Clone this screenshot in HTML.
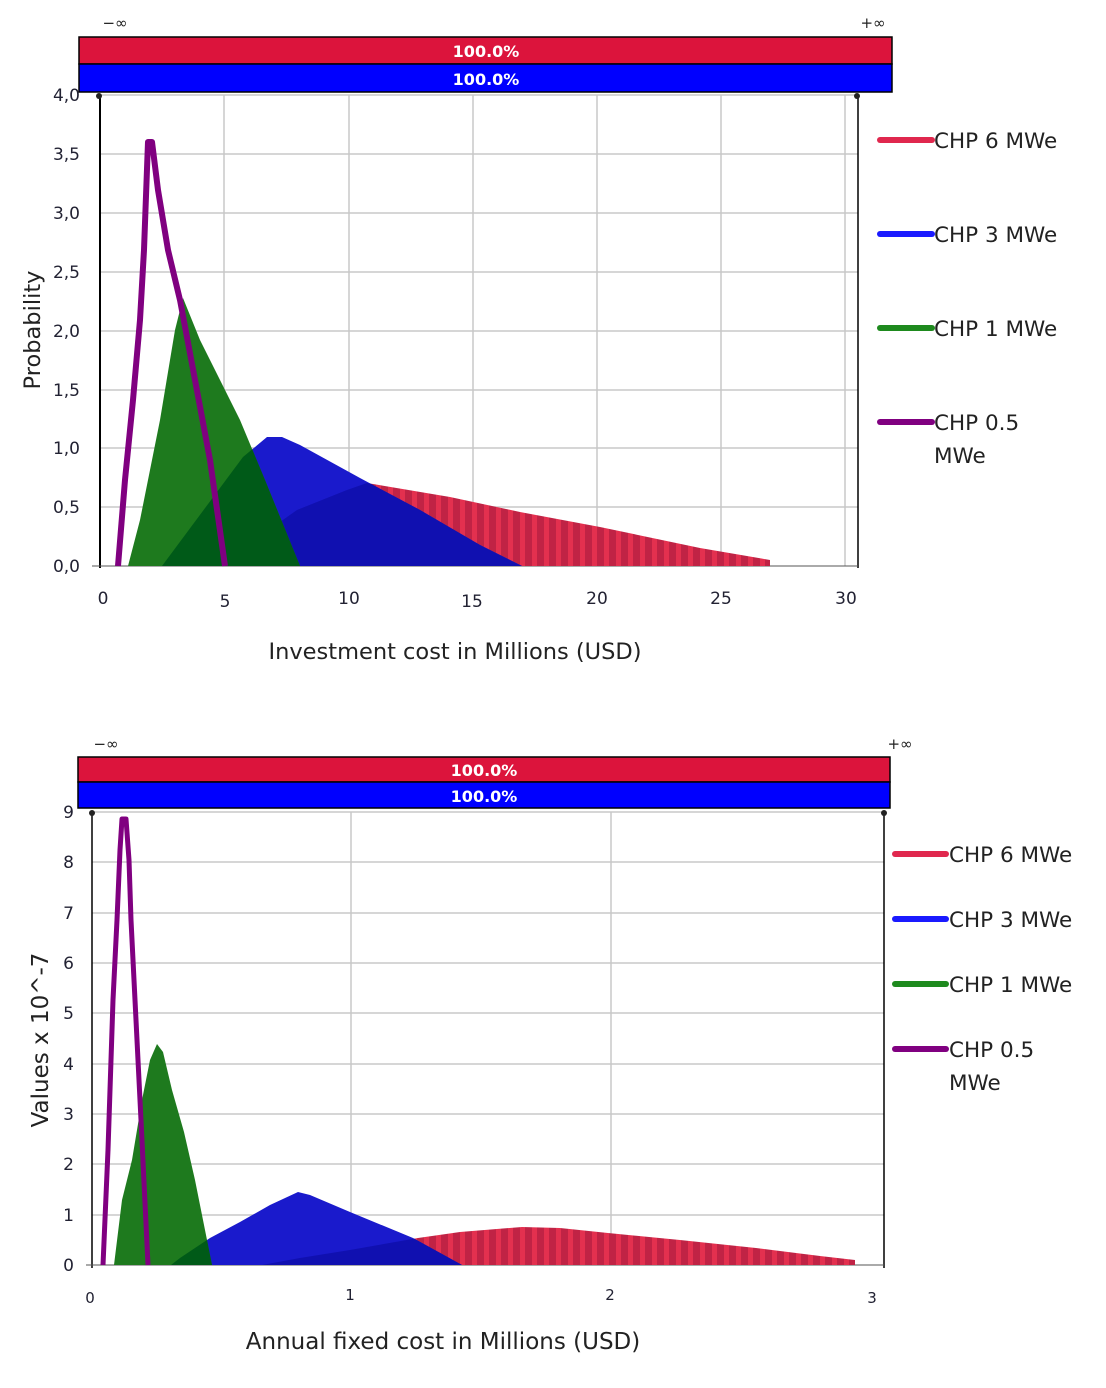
<!DOCTYPE html>
<html><head><meta charset="utf-8"><style>
html,body{margin:0;padding:0;background:#fff;}
svg{display:block;}
text{font-family:"DejaVu Sans","Liberation Sans",sans-serif;}
</style></head><body>
<svg width="1106" height="1388" viewBox="0 0 1106 1388" xmlns="http://www.w3.org/2000/svg">
<defs>
<pattern id="stripes" width="12" height="10" patternUnits="userSpaceOnUse">
<rect width="12" height="10" fill="#c02345"/><rect x="4" width="5" height="10" fill="#e3304f"/>
</pattern>
<clipPath id="redTop"><polygon points="262,566 280,522 297,510 347,490 367,483 450,497 520,512 600,527 700,548 770,560 770,566"/></clipPath>
<clipPath id="blueTop"><polygon points="162,566 243,457 267,437 282,437 300,445 360,478 420,510 480,545 522,566"/></clipPath>
<clipPath id="redBot"><polygon points="262,1265 300,1258 350,1250 418,1238 460,1232 522,1227 560,1228 608,1233 680,1240 756,1248 820,1256 855,1260 855,1265"/></clipPath>
<clipPath id="blueBot"><polygon points="171,1265 180,1258 210,1238 240,1222 270,1205 298,1192 310,1195 350,1212 413,1238 462,1265"/></clipPath>
</defs>

<!-- ===== TOP CHART ===== -->
<text x="115" y="28" font-size="15" fill="#222" text-anchor="middle">−∞</text>
<text x="873" y="28" font-size="15" fill="#222" text-anchor="middle">+∞</text>
<rect x="79" y="37" width="813" height="27" fill="#dc143c" stroke="#000" stroke-width="1.5"/>
<rect x="79" y="64" width="813" height="28" fill="#0000ff" stroke="#000" stroke-width="1.5"/>
<text x="486" y="57" font-size="16" font-weight="bold" fill="#fff" text-anchor="middle">100.0%</text>
<text x="486" y="85" font-size="16" font-weight="bold" fill="#fff" text-anchor="middle">100.0%</text>

<g stroke="#c8c8c8" stroke-width="1.5">
<line x1="100" y1="154" x2="858" y2="154"/><line x1="100" y1="213" x2="858" y2="213"/>
<line x1="100" y1="272" x2="858" y2="272"/><line x1="100" y1="331" x2="858" y2="331"/>
<line x1="100" y1="390" x2="858" y2="390"/><line x1="100" y1="448" x2="858" y2="448"/>
<line x1="100" y1="507" x2="858" y2="507"/><line x1="100" y1="95" x2="858" y2="95"/>
<line x1="224" y1="95" x2="224" y2="566"/><line x1="349" y1="95" x2="349" y2="566"/>
<line x1="473" y1="95" x2="473" y2="566"/><line x1="597" y1="95" x2="597" y2="566"/>
<line x1="721" y1="95" x2="721" y2="566"/><line x1="845" y1="95" x2="845" y2="566"/>
</g>
<line x1="100" y1="95" x2="100" y2="568" stroke="#000" stroke-width="2"/>
<line x1="858" y1="95" x2="858" y2="568" stroke="#000" stroke-width="1.5"/>
<line x1="92" y1="566" x2="858" y2="566" stroke="#555" stroke-width="1"/>
<circle cx="99" cy="96" r="3" fill="#222"/><circle cx="857" cy="96" r="3" fill="#222"/>

<rect x="100" y="400" width="700" height="170" fill="url(#stripes)" clip-path="url(#redTop)"/>
<g clip-path="url(#blueTop)"><rect x="100" y="400" width="700" height="170" fill="#1a1acc"/><rect x="100" y="400" width="700" height="170" fill="#1010b0" clip-path="url(#redTop)"/></g>
<polygon points="128,566 140,520 160,420 175,330 183,298 200,340 240,420 265,480 300,566" fill="#1e7a1e"/>
<g clip-path="url(#blueTop)"><polygon points="128,566 140,520 160,420 175,330 183,298 200,340 240,420 265,480 300,566" fill="#005a18"/></g>
<polyline points="118,566 125,480 133,400 140,320 144,250 148,142 152,142 158,190 168,250 180,300 195,380 210,460 225,566" fill="none" stroke="#800080" stroke-width="6" stroke-linejoin="round"/>

<g font-size="17" fill="#223" text-anchor="end">
<text x="80" y="101">4,0</text><text x="80" y="160">3,5</text><text x="80" y="219">3,0</text>
<text x="80" y="278">2,5</text><text x="80" y="337">2,0</text><text x="80" y="396">1,5</text>
<text x="80" y="454">1,0</text><text x="80" y="513">0,5</text><text x="80" y="572">0,0</text>
</g>
<g font-size="17" fill="#223" text-anchor="middle">
<text x="103" y="604">0</text><text x="225" y="607">5</text><text x="349" y="604">10</text>
<text x="472" y="607">15</text><text x="597" y="604">20</text><text x="721" y="604">25</text><text x="846" y="604">30</text>
</g>
<text x="455" y="659" font-size="22.5" fill="#222" text-anchor="middle">Investment cost in Millions (USD)</text>
<text transform="translate(40,330) rotate(-90)" font-size="22.5" fill="#222" text-anchor="middle">Probability</text>

<g stroke-width="6" stroke-linecap="round">
<line x1="880" y1="140" x2="932" y2="140" stroke="#e0284e"/>
<line x1="880" y1="234" x2="932" y2="234" stroke="#1a1aff"/>
<line x1="880" y1="328" x2="932" y2="328" stroke="#1e8a1e"/>
<line x1="880" y1="422" x2="932" y2="422" stroke="#800080"/>
</g>
<g font-size="21.5" fill="#222">
<text x="934" y="148">CHP 6 MWe</text><text x="934" y="242">CHP 3 MWe</text>
<text x="934" y="336">CHP 1 MWe</text><text x="934" y="430">CHP 0.5</text><text x="934" y="463">MWe</text>
</g>

<!-- ===== BOTTOM CHART ===== -->
<text x="106" y="749" font-size="15" fill="#222" text-anchor="middle">−∞</text>
<text x="900" y="749" font-size="15" fill="#222" text-anchor="middle">+∞</text>
<rect x="78" y="757" width="812" height="25" fill="#dc143c" stroke="#000" stroke-width="1.5"/>
<rect x="78" y="782" width="812" height="26" fill="#0000ff" stroke="#000" stroke-width="1.5"/>
<text x="484" y="776" font-size="16" font-weight="bold" fill="#fff" text-anchor="middle">100.0%</text>
<text x="484" y="802" font-size="16" font-weight="bold" fill="#fff" text-anchor="middle">100.0%</text>

<g stroke="#c8c8c8" stroke-width="1.5">
<line x1="92" y1="812" x2="884" y2="812"/><line x1="92" y1="862" x2="884" y2="862"/>
<line x1="92" y1="913" x2="884" y2="913"/><line x1="92" y1="963" x2="884" y2="963"/>
<line x1="92" y1="1013" x2="884" y2="1013"/><line x1="92" y1="1064" x2="884" y2="1064"/>
<line x1="92" y1="1114" x2="884" y2="1114"/><line x1="92" y1="1164" x2="884" y2="1164"/>
<line x1="92" y1="1215" x2="884" y2="1215"/>
<line x1="351" y1="812" x2="351" y2="1265"/><line x1="611" y1="812" x2="611" y2="1265"/>
</g>
<line x1="92" y1="812" x2="92" y2="1268" stroke="#000" stroke-width="1.5"/>
<line x1="884" y1="812" x2="884" y2="1268" stroke="#000" stroke-width="1.5"/>
<line x1="86" y1="1265" x2="884" y2="1265" stroke="#555" stroke-width="1"/>
<circle cx="92" cy="813" r="3" fill="#222"/><circle cx="884" cy="813" r="3" fill="#222"/>

<rect x="100" y="1180" width="800" height="90" fill="url(#stripes)" clip-path="url(#redBot)"/>
<g clip-path="url(#blueBot)"><rect x="100" y="1150" width="500" height="120" fill="#1a1acc"/><rect x="100" y="1150" width="500" height="120" fill="#1010b0" clip-path="url(#redBot)"/></g>
<polygon points="114,1265 122,1200 132,1160 142,1100 150,1060 157,1044 163,1052 172,1090 184,1132 195,1180 205,1230 212,1265" fill="#1e7a1e"/>
<g clip-path="url(#blueBot)"><polygon points="114,1265 122,1200 132,1160 142,1100 150,1060 157,1044 163,1052 172,1090 184,1132 195,1180 205,1230 212,1265" fill="#005a18"/></g>
<polyline points="103,1265 108,1150 113,1000 117,920 120,850 122,819 126,819 129,860 131,920 135,1000 141,1120 148,1265" fill="none" stroke="#800080" stroke-width="5" stroke-linejoin="round"/>

<g font-size="17" fill="#223" text-anchor="end">
<text x="74" y="818">9</text><text x="74" y="868">8</text><text x="74" y="919">7</text>
<text x="74" y="969">6</text><text x="74" y="1019">5</text><text x="74" y="1070">4</text>
<text x="74" y="1120">3</text><text x="74" y="1170">2</text><text x="74" y="1221">1</text><text x="74" y="1271">0</text>
</g>
<g font-size="15" fill="#223" text-anchor="middle">
<text x="90" y="1303">0</text><text x="350" y="1300">1</text><text x="610" y="1300">2</text><text x="872" y="1303">3</text>
</g>
<text x="443" y="1349" font-size="23" fill="#222" text-anchor="middle">Annual fixed cost in Millions (USD)</text>
<text transform="translate(48,1040) rotate(-90)" font-size="23" fill="#222" text-anchor="middle">Values x 10^-7</text>

<g stroke-width="6" stroke-linecap="round">
<line x1="895" y1="854" x2="946" y2="854" stroke="#e0284e"/>
<line x1="895" y1="919" x2="946" y2="919" stroke="#1a1aff"/>
<line x1="895" y1="984" x2="946" y2="984" stroke="#1e8a1e"/>
<line x1="895" y1="1049" x2="946" y2="1049" stroke="#800080"/>
</g>
<g font-size="21.5" fill="#222">
<text x="949" y="862">CHP 6 MWe</text><text x="949" y="927">CHP 3 MWe</text>
<text x="949" y="992">CHP 1 MWe</text><text x="949" y="1057">CHP 0.5</text><text x="949" y="1090">MWe</text>
</g>
</svg>
</body></html>
